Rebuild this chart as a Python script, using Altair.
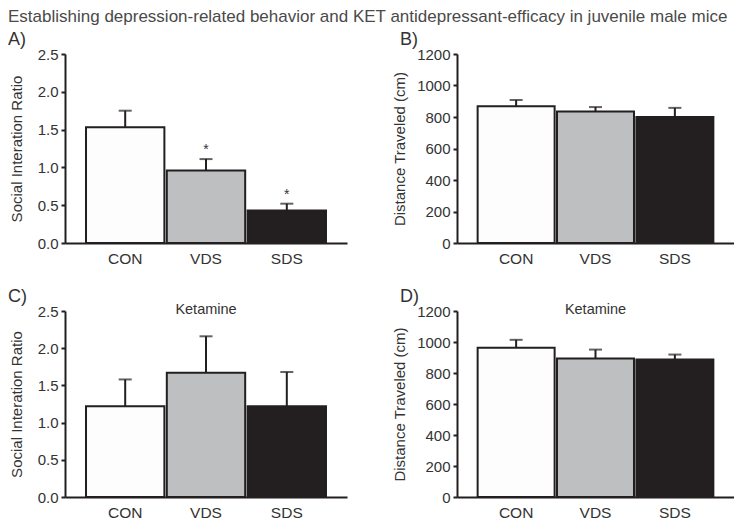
import altair as alt
import pandas as pd

TITLE = "Establishing depression-related behavior and KET antidepressant-efficacy in juvenile male mice"
groups = ["CON", "VDS", "SDS"]
fills = ["#fdfdfd", "#bdbfc1", "#231f20"]

# Panel A: social interaction ratio
a_mean = [1.53, 0.96, 0.43]
a_sem = [0.22, 0.15, 0.09]
a_sig = ["", "*", "*"]
# Panel B: distance traveled
b_mean = [868, 835, 800]
b_sem = [40, 28, 58]
# Panel C: social interaction ratio, ketamine
c_mean = [1.22, 1.67, 1.22]
c_sem = [0.36, 0.49, 0.46]
# Panel D: distance traveled, ketamine
d_mean = [963, 893, 887]
d_sem = [51, 58, 32]
# y-axis tick labels
sir_ticks = [0, 0.5, 1.0, 1.5, 2.0, 2.5]
dist_ticks = [0, 200, 400, 600, 800, 1000, 1200]

FONT = "Liberation Sans"
INK = "#231f20"
TXT = "#333333"


def panel(mean, sem, ytitle, ticks, fmt, label, w, h, tpad, sub=None, sig=None, main=None):
    df = pd.DataFrame({
        "g": groups,
        "m": mean,
        "up": [m + s for m, s in zip(mean, sem)],
        "sig": sig if sig else [""] * 3,
    })
    xscale = alt.Scale(paddingInner=0.03, paddingOuter=0.26)
    xaxis = alt.Axis(labelAngle=0, ticks=False, labelFontSize=15.5,
                     labelPadding=8, labelColor=TXT, labelFont=FONT,
                     domainColor=INK, domainWidth=2)
    yscale = alt.Scale(domain=[0, ticks[-1]], nice=False, zero=True)
    yaxis = alt.Axis(values=ticks,
                     format=fmt, grid=False, tickSize=4, tickWidth=2, tickColor=INK,
                     domainColor=INK, domainWidth=2, labelFontSize=15,
                     labelOverlap=False, labelFlush=False,
                     labelColor=TXT, labelFont=FONT, labelPadding=3,
                     titleFontSize=15, titleFont=FONT, titleColor=TXT,
                     titleFontWeight="normal", titlePadding=tpad)

    def X():
        return alt.X("g:N", sort=groups, title=None, scale=xscale, axis=xaxis)

    def Y(field):
        return alt.Y(field, scale=yscale, axis=yaxis, title=ytitle)

    base = alt.Chart(df)
    bars = base.mark_bar(stroke=INK, strokeWidth=2).encode(
        x=X(), y=Y("m:Q"),
        fill=alt.Fill("g:N", scale=alt.Scale(domain=groups, range=fills), legend=None),
    )
    err = base.mark_rule(color=INK, strokeWidth=2).encode(
        x=X(), y=Y("m:Q"), y2="up:Q")
    cap = base.mark_tick(color=INK, thickness=2, size=13).encode(
        x=X(), y=Y("up:Q"))
    layers = [bars, err, cap]
    if sig:
        stars = base.mark_text(dy=-9, fontSize=14, color=TXT, font=FONT).encode(
            x=X(), y=Y("up:Q"), text="sig:N")
        layers.append(stars)
    lab = alt.Chart(pd.DataFrame({"t": [label]})).mark_text(
        align="left", baseline="top", fontSize=18, color=TXT, font=FONT
    ).encode(text="t:N", x=alt.value(-57), y=alt.value(-23))
    layers.append(lab)
    if sub:
        st = alt.Chart(pd.DataFrame({"t": [sub]})).mark_text(
            align="center", baseline="middle", fontSize=14.5, color=TXT, font=FONT
        ).encode(text="t:N", x=alt.value(w / 2), y=alt.value(-1))
        layers.append(st)
    if main:
        mt = alt.Chart(pd.DataFrame({"t": [main]})).mark_text(
            align="left", baseline="top", fontSize=17, color="#4a4a4a", font=FONT
        ).encode(text="t:N", x=alt.value(-57), y=alt.value(-45))
        layers.append(mt)
    return alt.layer(*layers).properties(width=w, height=h)


A = panel(a_mean, a_sem, "Social Interation Ratio", sir_ticks, ".1f", "A)", 282, 189, 13,
          sig=a_sig, main=TITLE)
B = panel(b_mean, b_sem, "Distance Traveled (cm)", dist_ticks, "d", "B)", 277, 189, 9)
C = panel(c_mean, c_sem, "Social Interation Ratio", sir_ticks, ".1f", "C)", 282, 186, 13,
          sub="Ketamine")
D = panel(d_mean, d_sem, "Distance Traveled (cm)", dist_ticks, "d", "D)", 277, 186, 9,
          sub="Ketamine")

chart = alt.concat(A, B, C, D, columns=2, spacing={"row": 68, "column": 110},
                   bounds="flush").properties(
    padding=0, background="white"
).configure_view(strokeWidth=0, strokeOpacity=0)

chart.save("out.html", embed_options={"renderer": "svg", "actions": False})
